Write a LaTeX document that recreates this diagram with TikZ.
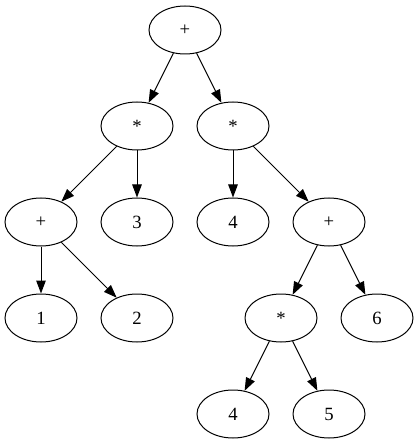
\documentclass[tikz,border=0pt]{standalone}
\usepackage{fontspec}
\setmainfont{Liberation Serif}
\usetikzlibrary{shapes.geometric,arrows.meta}
\begin{document}
\begin{tikzpicture}[x=1pt,y=-1pt,
  tnode/.style={ellipse,draw,line width=1pt,minimum width=72pt,minimum height=48pt,inner sep=0pt,font=\fontsize{18.7}{20}\selectfont},
  edge/.style={line width=1pt,-{Triangle[length=13pt,width=9.5pt]}}]
\useasboundingbox (0,0) rectangle (419,443);
\node[tnode] (r) at (185,30) {+};
\node[tnode] (m1) at (137,126) {*};
\node[tnode] (m2) at (233,126) {*};
\node[tnode] (p1) at (41,222) {+};
\node[tnode] (n3) at (137,222) {3};
\node[tnode] (n4a) at (233,222) {4};
\node[tnode] (p2) at (329,222) {+};
\node[tnode] (n1) at (41,318) {1};
\node[tnode] (n2) at (137,318) {2};
\node[tnode] (m3) at (281,318) {*};
\node[tnode] (n6) at (377,318) {6};
\node[tnode] (n4b) at (233,414) {4};
\node[tnode] (n5) at (329,414) {5};
\draw[edge] (r) -- (m1);
\draw[edge] (r) -- (m2);
\draw[edge] (m1) -- (p1);
\draw[edge] (m1) -- (n3);
\draw[edge] (m2) -- (n4a);
\draw[edge] (m2) -- (p2);
\draw[edge] (p1) -- (n1);
\draw[edge] (p1) -- (n2);
\draw[edge] (p2) -- (m3);
\draw[edge] (p2) -- (n6);
\draw[edge] (m3) -- (n4b);
\draw[edge] (m3) -- (n5);
\end{tikzpicture}
\end{document}
